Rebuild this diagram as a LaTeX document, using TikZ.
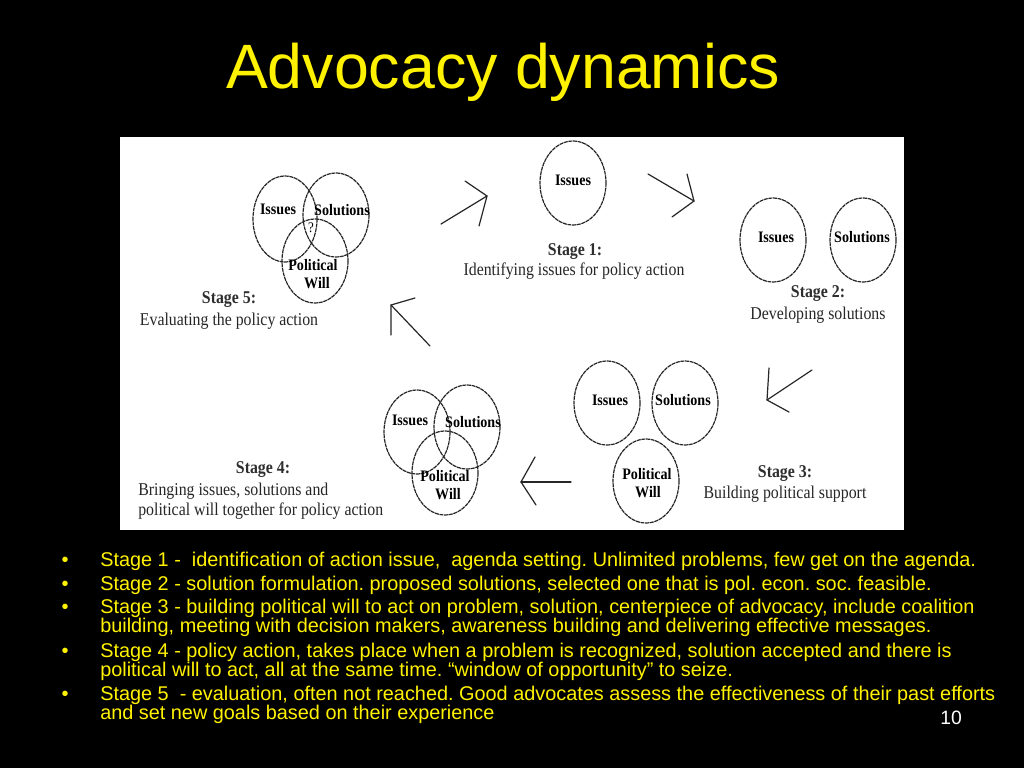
\documentclass[tikz,border=0pt]{standalone}
\usepackage{fontspec}
\setmainfont{Liberation Sans}
\newfontfamily\dfont[FakeStretch=0.88]{Liberation Serif}
\begin{document}
\frenchspacing
\begin{tikzpicture}[x=0.75pt,y=-0.75pt,
  circ/.style={draw=black!85,line width=0.9pt,dash pattern=on 3pt off 0.5pt},
  lbl/.style={font=\dfont\bfseries\fontsize{12}{12}\selectfont,inner sep=0pt,anchor=base,text=black},
  stg/.style={font=\dfont\bfseries\fontsize{13.5}{14}\selectfont,inner sep=0pt,anchor=base,text=black!82},
  dsc/.style={font=\dfont\fontsize{13.5}{14}\selectfont,inner sep=0pt,anchor=base,text=black!85},
  arr/.style={draw=black!85,line width=0.9pt,line cap=round,line join=miter},
  blt/.style={font=\fontsize{14.9}{15}\selectfont,text=yellow,inner sep=0pt,anchor=base west},
  bdot/.style={font=\fontsize{15}{15}\selectfont,text=yellow,inner sep=0pt,anchor=base}]
\fill[black] (0,0) rectangle (1024,768);
\useasboundingbox (0,0) rectangle (1024,768);
\fill[white] (120,137) rectangle (904,530);
% title
\node[font=\fontsize{47}{50}\selectfont,text=yellow,inner sep=0pt,anchor=base] (title) at (503,88) {Advocacy dynamics};
% Stage 1
\draw[circ] (573,183) ellipse [x radius=33,y radius=42];
\node[lbl] (s1i) at (573,185) {Issues};
\node[stg] (s1t) at (575,255) {Stage 1:};
\node[dsc] (s1d) at (574,275) {Identifying issues for policy action};
% Stage 2
\draw[circ] (773,240) ellipse [x radius=33,y radius=42];
\draw[circ] (863,240) ellipse [x radius=33,y radius=42];
\node[lbl] (s2i) at (776,242) {Issues};
\node[lbl] (s2s) at (862,242) {Solutions};
\node[stg] (s2t) at (818,297) {Stage 2:};
\node[dsc] (s2d) at (818,319) {Developing solutions};
% Stage 3
\draw[circ] (607,403) ellipse [x radius=33,y radius=42];
\draw[circ] (685,403) ellipse [x radius=33,y radius=42];
\draw[circ] (646,481) ellipse [x radius=33,y radius=42];
\node[lbl] (s3i) at (610,405) {Issues};
\node[lbl] (s3s) at (683,405) {Solutions};
\node[lbl] (s3p) at (647,479) {Political};
\node[lbl] (s3w) at (648,497) {Will};
\node[stg] (s3t) at (785,477) {Stage 3:};
\node[dsc] (s3d) at (785,498) {Building political support};
% Stage 4
\draw[circ] (417,432) ellipse [x radius=33,y radius=42];
\draw[circ] (467,427) ellipse [x radius=33,y radius=42];
\draw[circ] (445,473) ellipse [x radius=33,y radius=42];
\node[lbl] (s4i) at (410,425) {Issues};
\node[lbl] (s4s) at (473,427) {Solutions};
\node[lbl] (s4p) at (445,481) {Political};
\node[lbl] (s4w) at (448,499) {Will};
\node[stg] (s4t) at (263,473) {Stage 4:};
\node[dsc,anchor=base west] (s4d1) at (138,495) {Bringing issues, solutions and};
\node[dsc,anchor=base west] (s4d2) at (138,515) {political will together for policy action};
% Stage 5
\draw[circ] (285,219) ellipse [x radius=32,y radius=43];
\draw[circ] (336,215) ellipse [x radius=33,y radius=42];
\draw[circ] (315,261) ellipse [x radius=33,y radius=42];
\node[lbl] (s5i) at (278,214) {Issues};
\node[lbl] (s5s) at (342,215) {Solutions};
\node[lbl,font=\dfont\fontsize{11}{11}\selectfont] (s5q) at (311,232) {?};
\node[lbl] (s5p) at (313,270) {Political};
\node[lbl] (s5w) at (317,288) {Will};
\node[stg] (s5t) at (229,303) {Stage 5:};
\node[dsc] (s5d) at (229,325) {Evaluating the policy action};
% arrows
\coordinate (a1s) at (441,224); \coordinate (a1t) at (487,196);
\draw[arr] (a1s) -- (a1t);
\draw[arr] (465,181) -- (a1t) -- (479,226);
\coordinate (a2s) at (648,174); \coordinate (a2t) at (694,201);
\draw[arr] (a2s) -- (a2t);
\draw[arr] (687,174) -- (a2t) -- (672,217);
\coordinate (a3s) at (812,370); \coordinate (a3t) at (767,400);
\draw[arr] (a3s) -- (a3t);
\draw[arr] (769,368) -- (a3t) -- (789,412);
\coordinate (a4s) at (571,482); \coordinate (a4t) at (521,482);
\draw[arr] (a4s) -- (a4t);
\draw[arr] (535,457) -- (a4t) -- (536,505);
\coordinate (a5s) at (430,346); \coordinate (a5t) at (391,305);
\draw[arr] (a5s) -- (a5t);
\draw[arr] (415,298) -- (a5t) -- (391,335);
% bullets
\foreach \y [count=\i] in {566,590,613,657,700}{\node[bdot] (bd\i) at (65,\y) {•};}
\node[blt] (b1) at (100,566) {Stage 1 -\ \ identification of action issue,\ \ agenda setting. Unlimited problems, few get on the agenda.};
\node[blt] (b2) at (100,590) {Stage 2 - solution formulation. proposed solutions, selected one that is pol. econ. soc. feasible.};
\node[blt] (b3a) at (100,613) {Stage 3 - building political will to act on problem, solution, centerpiece of advocacy, include coalition};
\node[blt] (b3b) at (100,632) {building, meeting with decision makers, awareness building and delivering effective messages.};
\node[blt] (b4a) at (100,657) {Stage 4 - policy action, takes place when a problem is recognized, solution accepted and there is};
\node[blt] (b4b) at (100,676) {political will to act, all at the same time. “window of opportunity” to seize.};
\node[blt] (b5a) at (100,700) {Stage 5\ \ - evaluation, often not reached. Good advocates assess the effectiveness of their past efforts};
\node[blt] (b5b) at (100,719) {and set new goals based on their experience};
\node[font=\fontsize{14.5}{15}\selectfont,text=white,inner sep=0pt,anchor=base] (pg) at (951,724) {10};
\end{tikzpicture}
\end{document}
